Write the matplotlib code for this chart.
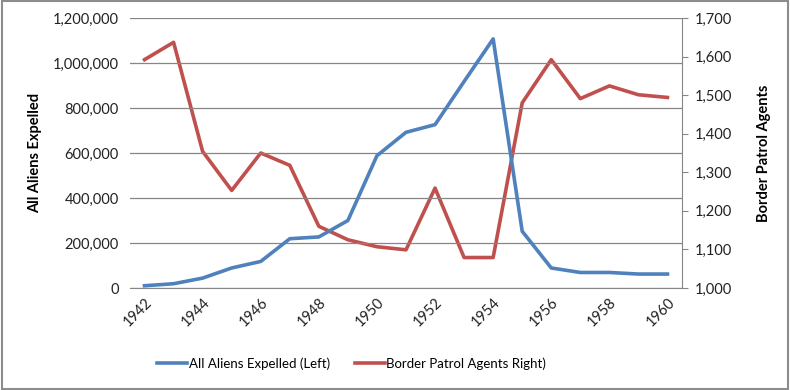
import matplotlib.pyplot as plt
import matplotlib.ticker as mticker
import matplotlib.transforms as mtransforms
import numpy as np

plt.rcParams['font.family'] = ['Lato', 'DejaVu Sans']

# data
years = np.arange(1942, 1961)
aliens_expelled = [10000, 19000, 44000, 89000, 118000, 219000, 227000, 300000,
                   588000, 692000, 726000, 918000, 1107000, 252000, 89000,
                   69000, 69000, 62000, 62000]
patrol_agents = [1592, 1637, 1354, 1253, 1350, 1318, 1160, 1125, 1107, 1099,
                 1259, 1079, 1079, 1480, 1592, 1491, 1524, 1501, 1494]
year_labels = [str(y) for y in years[::2]]

blue = '#4F81BD'
red = '#C0504D'

fig = plt.figure(figsize=(7.9, 3.9), dpi=100)
ax = fig.add_axes([130/790, 1 - 288/390, 552/790, 270/390])
ax2 = ax.twinx()

x = np.arange(len(years))
l1, = ax.plot(x, aliens_expelled, color=blue, lw=2.6, solid_joinstyle='round',
              label='All Aliens Expelled (Left)')
l2, = ax2.plot(x, patrol_agents, color=red, lw=2.6, solid_joinstyle='round',
               label='Border Patrol Agents Right)')
ax.set_zorder(ax2.get_zorder() + 1)
ax.patch.set_visible(False)

ax.set_xlim(-0.5, len(years) - 0.5)
ax.set_ylim(0, 1200000)
ax.set_yticks(np.arange(0, 1200001, 200000))
ax.yaxis.set_major_formatter(mticker.FuncFormatter(lambda v, p: f'{int(v):,}'))
ax.set_xticks(x[::2])
ax.set_xticklabels(year_labels, rotation=45, ha='right', rotation_mode='anchor')
shift = mtransforms.ScaledTranslation(-7/100, 0, fig.dpi_scale_trans)
for lab in ax.get_xticklabels():
    lab.set_transform(lab.get_transform() + shift)
ax.grid(axis='y', color='#868686', lw=0.9)
ax.set_axisbelow(True)

ax2.set_ylim(1000, 1700)
ax2.set_yticks(np.arange(1000, 1701, 100))
ax2.yaxis.set_major_formatter(mticker.FuncFormatter(lambda v, p: f'{int(v):,}'))

for a in (ax, ax2):
    for s in ('top', 'left'):
        a.spines[s].set_visible(False)
    a.spines['bottom'].set_color('#868686')
    a.spines['right'].set_color('#868686')
ax.spines['right'].set_visible(False)
ax2.spines['bottom'].set_visible(False)

ax.tick_params(axis='y', length=0, labelsize=10.5, pad=8, colors='#222222')
ax.tick_params(axis='x', length=0, labelsize=10.5, pad=5, colors='#222222')
ax2.tick_params(axis='y', length=4, color='#868686', labelsize=10.5, pad=5,
                labelcolor='#222222')

ax.set_ylabel('All Aliens Expelled', fontsize=10.5, fontweight='bold', labelpad=8)
ax2.set_ylabel('Border Patrol Agents', fontsize=10.5, fontweight='bold', labelpad=18)

fig.legend(handles=[l1, l2], loc='center', bbox_to_anchor=(0.445, 0.068), ncol=2,
           frameon=False, fontsize=9.5, handlelength=2.3, handletextpad=0.1,
           columnspacing=1.9)

fig.patches.append(plt.Rectangle((0.002, 0.003), 0.996, 0.994, transform=fig.transFigure,
                                 fill=False, edgecolor='#8c8c8c', lw=1.5))

fig.savefig('out.png', dpi=100)
